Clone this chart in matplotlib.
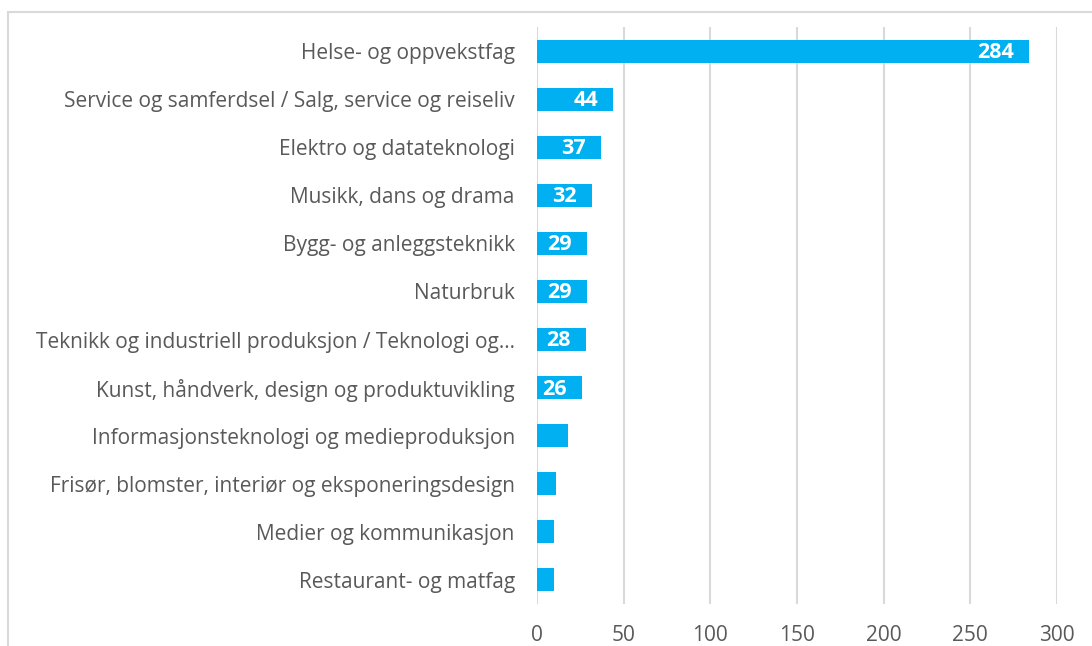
import matplotlib.pyplot as plt
from matplotlib.patches import Rectangle

kategorier = [
    "Helse- og oppvekstfag",
    "Service og samferdsel / Salg, service og reiseliv",
    "Elektro og datateknologi",
    "Musikk, dans og drama",
    "Bygg- og anleggsteknikk",
    "Naturbruk",
    "Teknikk og industriell produksjon / Teknologi og…",
    "Kunst, håndverk, design og produktuvikling",
    "Informasjonsteknologi og medieproduksjon",
    "Frisør, blomster, interiør og eksponeringsdesign",
    "Medier og kommunikasjon",
    "Restaurant- og matfag",
]
antall = [284, 44, 37, 32, 29, 29, 28, 26, 18, 11, 10, 10]
# bare de åtte første har etikett i originalen
etiketter = ["284", "44", "37", "32", "29", "29", "28", "26", "", "", "", ""]
x_ticks = [0, 50, 100, 150, 200, 250, 300]

plt.rcParams['font.family'] = ['Open Sans', 'DejaVu Sans']

W, H = 1092, 646
fig = plt.figure(figsize=(W / 100, H / 100), dpi=100)
ax = fig.add_axes([537 / W, 1 - 604 / H, 520 / W, 577 / H])

# ramme rundt diagrammet (beskåret til høyre og nederst)
fig.patches.append(Rectangle((8 / W, -0.1), 1.2, 1 - 12 / H + 0.1,
                             transform=fig.transFigure, fill=False,
                             edgecolor="#D9D9D9", linewidth=1.5))

pos = list(range(len(kategorier)))
ax.barh(pos, antall, height=0.48, color="#00B0F0", zorder=3)

for p, v, t in zip(pos, antall, etiketter):
    if t:
        ax.annotate(t, (v, p), xytext=(-11, -1), textcoords="offset points",
                    ha="right", va="center", color="white",
                    fontsize=15.5, fontweight="bold", zorder=4)

ax.set_xlim(0, 300)
ax.set_ylim(len(kategorier) - 0.5, -0.5)
ax.set_xticks(x_ticks)
ax.set_yticks(pos)
ax.set_yticklabels(kategorier)
ax.tick_params(axis="y", length=0, pad=16, labelsize=15, labelcolor="#595959")
ax.tick_params(axis="x", length=0, pad=15, labelsize=15, labelcolor="#595959")
ax.grid(axis="x", color="#D9D9D9", linewidth=1.5, zorder=0)
for s in ax.spines.values():
    s.set_visible(False)

plt.savefig("out.png", dpi=100)
plt.close("all")
